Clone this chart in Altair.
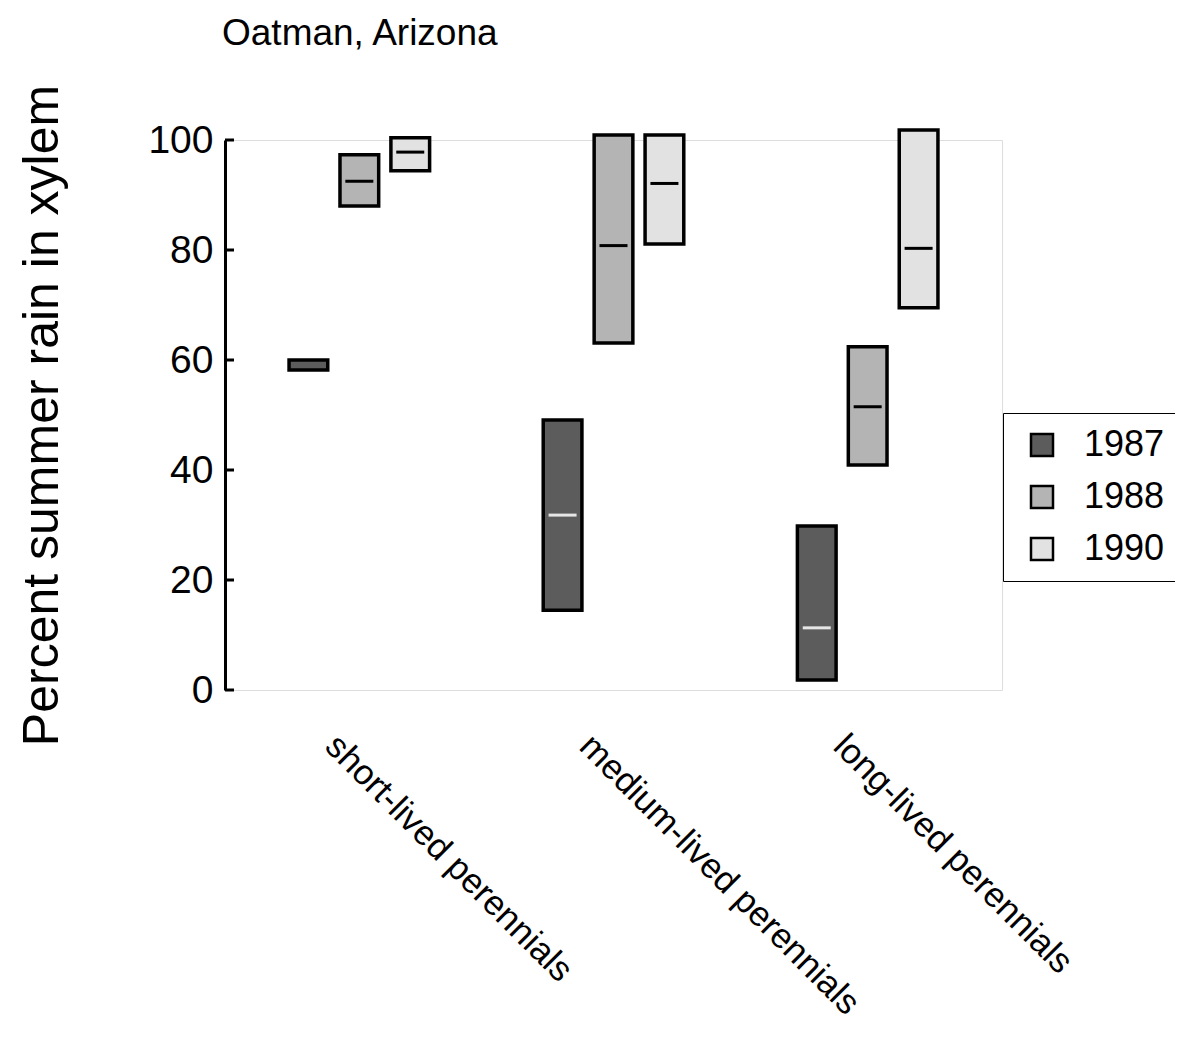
import altair as alt
import pandas as pd

FONT = "Liberation Sans"

categories = ["short-lived perennials", "medium-lived perennials", "long-lived perennials"]
years = ["1987", "1988", "1990"]

# ranges (low, high) and median per category, one list per year
low_1987 = [58.2, 14.5, 1.8]
high_1987 = [60.0, 49.1, 29.8]
med_1987 = [None, 31.8, 11.3]

low_1988 = [88.0, 63.1, 40.9]
high_1988 = [97.3, 100.9, 62.4]
med_1988 = [92.5, 80.8, 51.5]

low_1990 = [94.4, 81.1, 69.5]
high_1990 = [100.4, 100.9, 101.8]
med_1990 = [97.8, 92.1, 80.3]

tick_values = [0, 20, 40, 60, 80, 100]

fill_colors = ["#5c5c5c", "#b4b4b4", "#e2e2e2"]

rows = []
for yr, lo, hi, md in [("1987", low_1987, high_1987, med_1987),
                       ("1988", low_1988, high_1988, med_1988),
                       ("1990", low_1990, high_1990, med_1990)]:
    for c, l, h, m in zip(categories, lo, hi, md):
        rows.append({"group": c, "year": yr, "lo": l, "hi": h, "med": m})
df = pd.DataFrame(rows)
med_df = df.dropna(subset=["med"])
ticks_df = pd.DataFrame({"lo": tick_values})

x_axis = alt.Axis(
    title=None, labelAngle=45, domain=False, ticks=False,
    labelFontSize=35, labelPadding=38, labelOffset=-16, labelLimit=1000,
    labelFont=FONT, labelColor="black", labelAlign="left", labelBaseline="top",
)
x_scale = alt.Scale(paddingInner=0.447, paddingOuter=0.252)
xoff = alt.XOffset("year:N", sort=years, scale=alt.Scale(paddingInner=0.24, paddingOuter=0))

y_scale = alt.Scale(domain=[0, 100], nice=False, zero=True)
y_axis = alt.Axis(
    title="Percent summer rain in xylem", values=tick_values, ticks=False,
    grid=False, domainColor="black", domainWidth=3,
    labelFontSize=39, labelFont=FONT, labelColor="black", labelPadding=12,
    titleFontSize=50, titleFont=FONT, titleFontWeight="normal",
    titleColor="black", titlePadding=80,
)

bars = alt.Chart(df).mark_bar(stroke="black", strokeWidth=3.5, opacity=1).encode(
    x=alt.X("group:N", sort=categories, scale=x_scale, axis=x_axis),
    xOffset=xoff,
    y=alt.Y("lo:Q", scale=y_scale, axis=y_axis),
    y2="hi:Q",
    fill=alt.Fill(
        "year:N", sort=years,
        scale=alt.Scale(domain=years, range=fill_colors),
        legend=alt.Legend(
            title=None, orient="none", legendX=778, legendY=273,
            symbolType="square", symbolSize=484, symbolStrokeColor="black",
            symbolStrokeWidth=2.5, symbolOpacity=1, labelFontSize=36, labelFont=FONT,
            labelColor="black", rowPadding=16, padding=14, strokeColor="black",
            labelOffset=24, symbolOffset=7,
        ),
    ),
)

medians = alt.Chart(med_df).mark_tick(thickness=3, size=28, opacity=1).encode(
    x=alt.X("group:N", sort=categories, scale=x_scale, axis=x_axis),
    xOffset=xoff,
    y=alt.Y("med:Q", scale=y_scale, axis=y_axis),
    color=alt.condition(alt.datum.year == "1987", alt.value("#e6e6e6"), alt.value("black")),
)

axis_ticks = alt.Chart(ticks_df).mark_rule(strokeWidth=3, color="black").encode(
    y=alt.Y("lo:Q", scale=y_scale, axis=y_axis),
    x=alt.value(0),
    x2=alt.value(9),
)

chart = alt.layer(bars, medians, axis_ticks).properties(
    width=777,
    height=550,
    title=alt.TitleParams(
        "Oatman, Arizona", anchor="start", frame="group", fontSize=37, font=FONT,
        fontWeight="normal", color="black", offset=31, dx=-3,
    ),
    autosize=alt.AutoSizeParams(type="none"),
    padding={"left": 217, "top": 132, "right": 173, "bottom": 340},
).configure_view(stroke="transparent", strokeWidth=0).configure_legend(strokeWidth=2.5).configure(background="white")

chart.save("out.html", embed_options={"renderer": "svg", "actions": False})
